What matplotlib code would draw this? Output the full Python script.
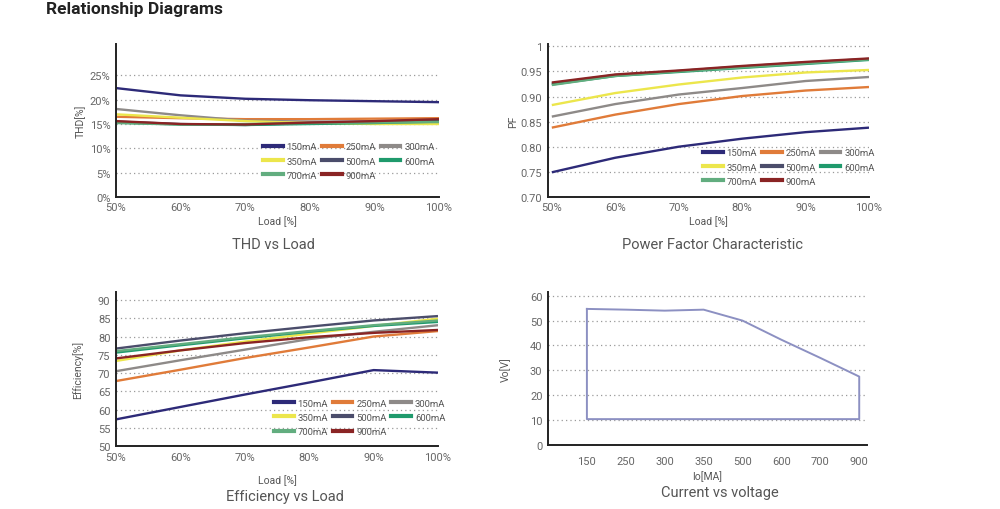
import numpy as np
import matplotlib
matplotlib.use("Agg")
import matplotlib.pyplot as plt

plt.rcParams['font.family'] = ['Roboto', 'DejaVu Sans']

# load axis shared by three charts
load = [50, 60, 70, 80, 90, 100]
currents = ['150mA', '250mA', '300mA', '350mA', '500mA', '600mA', '700mA', '900mA']
colors = ['#2d2a78', '#e07b39', '#8e8a88', '#ece64c', '#4b4d6b', '#1f9a6c', '#62ad7f', '#8a2424']

# THD [%]
thd_150 = [22.4, 20.9, 20.2, 19.9, 19.7, 19.5]
thd_250 = [16.5, 16.2, 16.0, 16.0, 16.1, 16.2]
thd_300 = [18.1, 16.8, 15.7, 15.5, 15.5, 15.8]
thd_350 = [17.0, 16.3, 15.6, 15.2, 15.0, 15.0]
thd_500 = [15.5, 15.0, 14.8, 15.2, 15.5, 15.8]
thd_600 = [15.3, 14.9, 14.8, 15.0, 15.2, 15.5]
thd_700 = [15.2, 14.9, 15.0, 15.2, 15.3, 15.4]
thd_900 = [15.6, 15.0, 14.9, 15.3, 15.6, 16.0]

# power factor
pf_150 = [0.749, 0.778, 0.800, 0.816, 0.829, 0.838]
pf_250 = [0.838, 0.864, 0.885, 0.901, 0.912, 0.919]
pf_300 = [0.860, 0.885, 0.904, 0.917, 0.931, 0.939]
pf_350 = [0.883, 0.907, 0.924, 0.938, 0.948, 0.953]
pf_500 = [0.926, 0.943, 0.951, 0.960, 0.968, 0.975]
pf_600 = [0.924, 0.941, 0.949, 0.957, 0.965, 0.973]
pf_700 = [0.923, 0.941, 0.950, 0.958, 0.966, 0.974]
pf_900 = [0.928, 0.944, 0.952, 0.961, 0.969, 0.976]

# efficiency [%]
eff_150 = [57.3, 60.7, 64.1, 67.4, 70.8, 70.1]
eff_250 = [67.8, 70.9, 74.1, 77.0, 80.0, 81.5]
eff_300 = [70.5, 73.5, 76.4, 79.3, 81.3, 83.1]
eff_350 = [73.3, 76.2, 78.6, 80.8, 82.9, 84.9]
eff_500 = [76.7, 78.9, 80.9, 82.7, 84.4, 85.6]
eff_600 = [75.6, 77.6, 79.5, 81.3, 82.9, 84.0]
eff_700 = [76.0, 77.9, 79.8, 81.5, 83.1, 84.4]
eff_900 = [74.0, 76.2, 78.2, 79.8, 81.0, 81.8]

# operating window, current vs voltage
io_labels = ['150', '250', '300', '350', '500', '600', '700', '900']
vo_max = [54.7, 54.4, 54.0, 54.4, 50.0, 42.3, 35.0, 27.5]
vo_min = 10.4

thd = [thd_150, thd_250, thd_300, thd_350, thd_500, thd_600, thd_700, thd_900]
pf = [pf_150, pf_250, pf_300, pf_350, pf_500, pf_600, pf_700, pf_900]
eff = [eff_150, eff_250, eff_300, eff_350, eff_500, eff_600, eff_700, eff_900]

tick_col = '#666666'
title_col = '#555555'


def style_axes(ax):
    for s in ['top', 'right']:
        ax.spines[s].set_visible(False)
    for s in ['left', 'bottom']:
        ax.spines[s].set_linewidth(1.4)
        ax.spines[s].set_color('#222222')
    ax.tick_params(length=0, labelsize=8, labelcolor=tick_col, pad=4)
    ax.yaxis.grid(True, linestyle=(0, (1, 2.5)), color='#9a9a9a', linewidth=0.9)
    ax.set_axisbelow(True)


def add_legend(ax, x, y):
    handles = [plt.Line2D([], [], color=c, linewidth=3) for c in colors]
    # reorder so column-major filling reads row by row
    order = [0, 3, 6, 1, 4, 7, 2, 5]
    ax.legend([handles[i] for i in order], [currents[i] for i in order],
              ncol=3, loc='upper left', bbox_to_anchor=(x, y), frameon=False,
              fontsize=6.8, handlelength=2.1, handletextpad=0.4,
              columnspacing=0.5, labelspacing=0.55, borderpad=0, borderaxespad=0,
              labelcolor='#555555')


def load_series(ax, data):
    for d, c in zip(data, colors):
        ax.plot(load, d, color=c, linewidth=1.7, solid_capstyle='butt')


fig = plt.figure(figsize=(10, 5.1), dpi=100)
fig.text(0.046, 0.982, 'Relationship Diagrams', fontsize=12.5, fontweight='bold',
         color='#222222', va='center', ha='left')

# THD vs Load
ax1 = fig.add_axes([0.116, 0.612, 0.323, 0.300])
style_axes(ax1)
load_series(ax1, thd)
ax1.set_xlim(50, 100)
ax1.set_ylim(0, 31.5)
ax1.set_yticks([0, 5, 10, 15, 20, 25])
ax1.set_yticklabels(['0%', '5%', '10%', '15%', '20%', '25%'])
ax1.set_xticks(load)
ax1.set_xticklabels(['%d%%' % v for v in load])
ax1.set_xlabel('Load [%]', fontsize=7.5, color='#555555', labelpad=2)
ax1.set_ylabel('THD[%]', fontsize=7.5, color='#555555', labelpad=3)
add_legend(ax1, 0.455, 0.356)
fig.text(0.273, 0.519, 'THD vs Load', fontsize=10.5, color=title_col, ha='center', va='center')

# Power factor
ax2 = fig.add_axes([0.548, 0.612, 0.321, 0.300])
style_axes(ax2)
load_series(ax2, pf)
ax2.set_xlim(49.4, 99.6)
ax2.set_ylim(0.70, 1.005)
ax2.set_yticks([0.70, 0.75, 0.80, 0.85, 0.90, 0.95, 1.0])
ax2.set_yticklabels(['0.70', '0.75', '0.80', '0.85', '0.90', '0.95', '1'])
ax2.set_xticks(load)
ax2.set_xticklabels(['%d%%' % v for v in load])
ax2.set_xlabel('Load [%]', fontsize=7.5, color='#555555', labelpad=2)
ax2.set_ylabel('PF', fontsize=7.5, color='#555555', labelpad=2)
add_legend(ax2, 0.483, 0.317)
fig.text(0.712, 0.519, 'Power Factor Characteristic', fontsize=10.5, color=title_col,
         ha='center', va='center')

# Efficiency
ax3 = fig.add_axes([0.116, 0.1235, 0.322, 0.302])
style_axes(ax3)
load_series(ax3, eff)
ax3.set_xlim(50, 100)
ax3.set_ylim(50, 92.2)
ax3.set_yticks([50, 55, 60, 65, 70, 75, 80, 85, 90])
ax3.set_xticks(load)
ax3.set_xticklabels(['%d%%' % v for v in load])
ax3.set_xlabel('Load [%]', fontsize=7.5, color='#555555', labelpad=9)
ax3.set_ylabel('Efficiency[%]', fontsize=7.5, color='#555555', labelpad=11)
add_legend(ax3, 0.49, 0.308)
fig.text(0.285, 0.026, 'Efficiency vs Load', fontsize=10.5, color=title_col,
         ha='center', va='center')

# Current vs voltage
ax4 = fig.add_axes([0.548, 0.1255, 0.319, 0.300])
style_axes(ax4)
pos = np.arange(1, len(io_labels) + 1)
px = list(pos) + [pos[-1], pos[0], pos[0]]
py = list(vo_max) + [vo_min, vo_min, vo_max[0]]
ax4.plot(px, py, color='#8c90c2', linewidth=1.4)
ax4.set_xlim(0, 8.2)
ax4.set_ylim(0, 61.5)
ax4.set_yticks([0, 10, 20, 30, 40, 50, 60])
ax4.set_xticks(pos)
ax4.set_xticklabels(io_labels)
ax4.tick_params(axis='x', pad=8)
ax4.set_xlabel('Io[MA]', fontsize=7.5, color='#555555', labelpad=3)
ax4.set_ylabel('Vo[V]', fontsize=7.5, color='#555555', labelpad=14)
fig.text(0.720, 0.033, 'Current vs voltage', fontsize=10.5, color=title_col,
         ha='center', va='center')

fig.savefig('out.png', dpi=100, facecolor='white')
